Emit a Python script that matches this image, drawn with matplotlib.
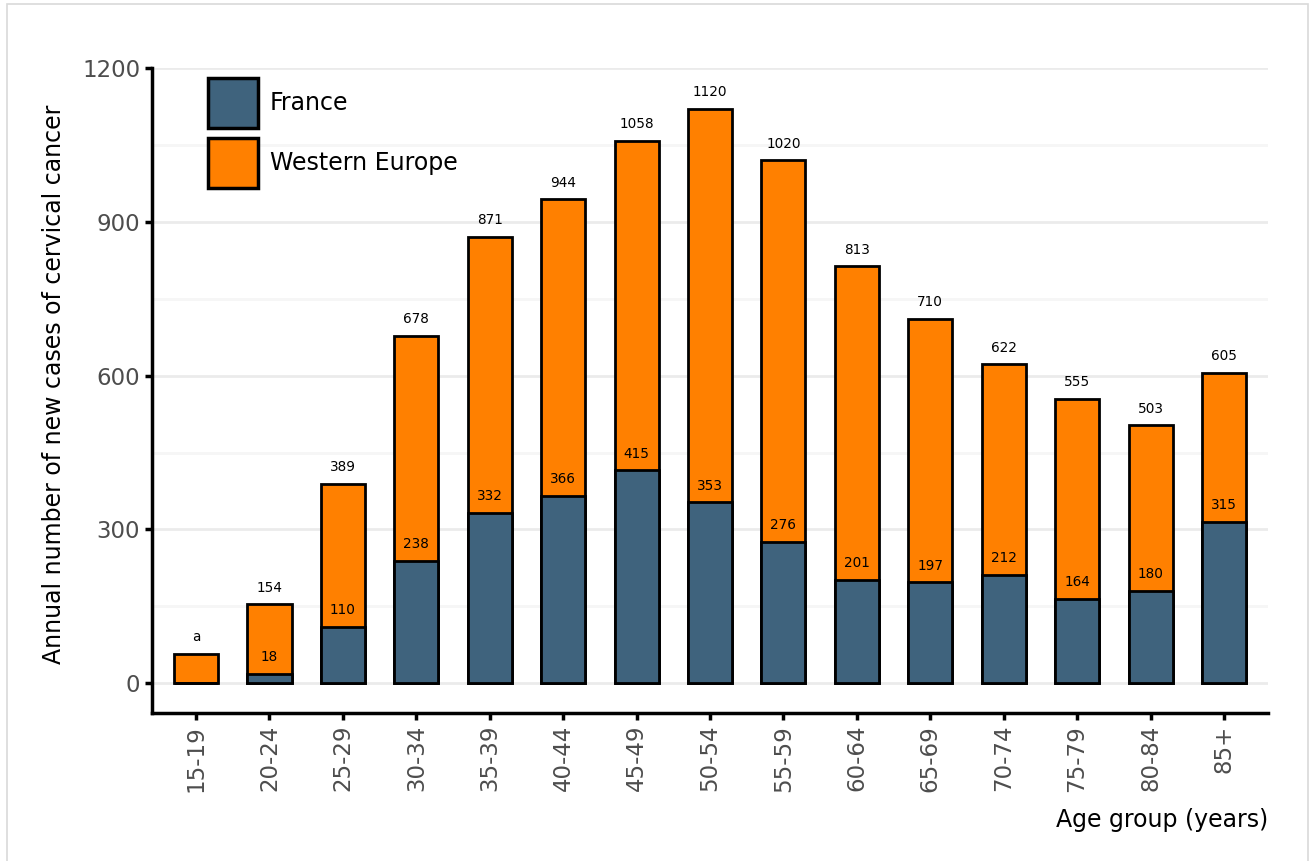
import numpy as np
import matplotlib.pyplot as plt
from matplotlib.patches import Rectangle, Patch

age_groups = ["15-19", "20-24", "25-29", "30-34", "35-39", "40-44", "45-49", "50-54",
              "55-59", "60-64", "65-69", "70-74", "75-79", "80-84", "85+"]
western_europe = [58, 154, 389, 678, 871, 944, 1058, 1120, 1020, 813, 710, 622, 555, 503, 605]
france = [0, 18, 110, 238, 332, 366, 415, 353, 276, 201, 197, 212, 164, 180, 315]
we_labels = ["a", "154", "389", "678", "871", "944", "1058", "1120", "1020", "813",
             "710", "622", "555", "503", "605"]
fr_labels = ["", "18", "110", "238", "332", "366", "415", "353", "276", "201",
             "197", "212", "164", "180", "315"]

blue = "#3f637d"
orange = "#ff8000"

fig = plt.figure(figsize=(13.09, 8.61), dpi=100)
ax = fig.add_axes([152 / 1309, 1 - 713 / 861, (1268 - 152) / 1309, (713 - 68) / 861])

# light frame round the figure
fig.patches.append(Rectangle((7 / 1309, -0.01), (1301 / 1309), 1 - 4 / 861 + 0.01,
                             transform=fig.transFigure, fill=False,
                             edgecolor="#d9d9d9", linewidth=1.2))

x = np.arange(len(age_groups))
ax.bar(x, western_europe, width=0.6, color=orange, edgecolor="black", linewidth=2, zorder=2)
ax.bar(x, france, width=0.6, color=blue, edgecolor="black", linewidth=2, zorder=3)

for i in range(len(x)):
    ax.text(x[i], western_europe[i] + 19, we_labels[i], ha="center", va="bottom",
            fontsize=9.8, zorder=4)
    if fr_labels[i]:
        ax.text(x[i], france[i] + 19, fr_labels[i], ha="center", va="bottom",
                fontsize=9.8, zorder=4)

ax.set_xlim(-0.6, 14.6)
ax.set_ylim(-58, 1200)
ax.set_yticks([0, 300, 600, 900, 1200])
ax.set_yticks([150, 450, 750, 1050], minor=True)
ax.grid(axis="y", which="major", color="#ebebeb", linewidth=2, zorder=0)
ax.grid(axis="y", which="minor", color="#f6f6f6", linewidth=2, zorder=0)
ax.set_axisbelow(True)
ax.set_xticks(x)
ax.set_xticklabels(age_groups, rotation=90)
ax.tick_params(axis="both", which="major", labelsize=16.5, labelcolor="#4d4d4d",
               length=5, width=2.5, color="black")
ax.tick_params(axis="y", which="minor", length=0)

for side in ["top", "right"]:
    ax.spines[side].set_visible(False)
for side in ["left", "bottom"]:
    ax.spines[side].set_linewidth(2.5)

ax.set_ylabel("Annual number of new cases of cervical cancer", fontsize=17)
ax.yaxis.set_label_coords(-0.0775, 0.51)
ax.set_xlabel("Age group (years)", fontsize=17, loc="right", labelpad=12)

handles = [Patch(facecolor=blue, edgecolor="black", linewidth=2.5, label="France"),
           Patch(facecolor=orange, edgecolor="black", linewidth=2.5, label="Western Europe")]
ax.legend(handles=handles, loc="upper left", bbox_to_anchor=(0.05, 0.985), frameon=False,
          fontsize=17, handlelength=2.12, handleheight=2.88, labelspacing=0.42,
          handletextpad=0.5, borderaxespad=0, borderpad=0)

fig.savefig("out.png", dpi=100)
